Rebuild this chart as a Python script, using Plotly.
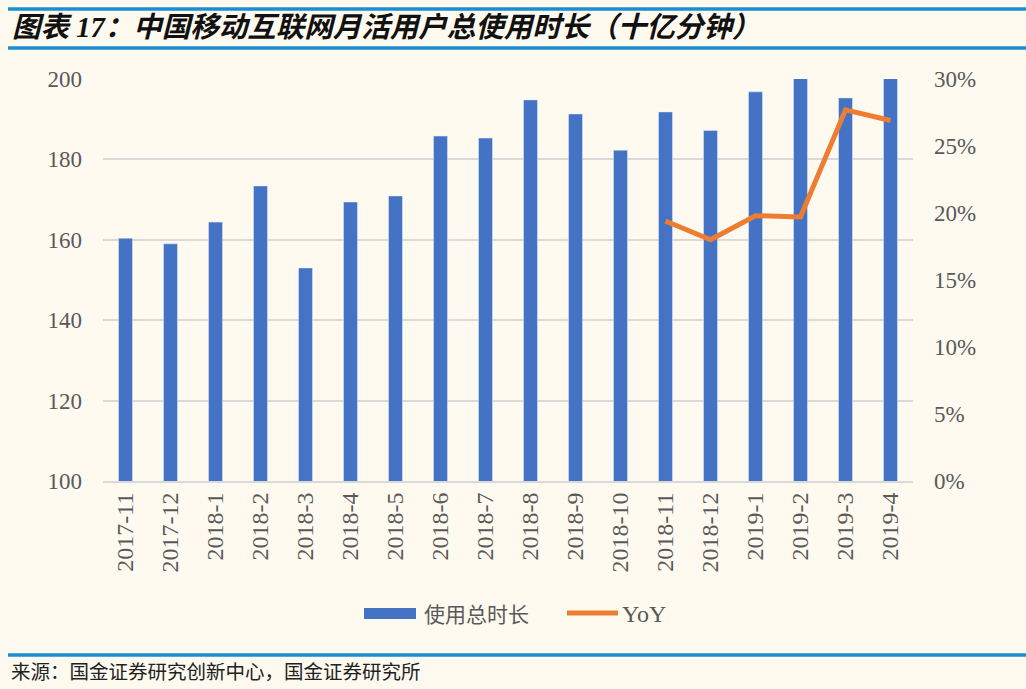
import plotly.graph_objects as go

categories = ["2017-11", "2017-12", "2018-1", "2018-2", "2018-3", "2018-4", "2018-5",
              "2018-6", "2018-7", "2018-8", "2018-9", "2018-10", "2018-11", "2018-12",
              "2019-1", "2019-2", "2019-3", "2019-4"]
usage = [160.4, 159.0, 164.4, 173.4, 153.0, 169.4, 170.9, 185.8, 185.3, 194.8,
         191.3, 182.3, 191.8, 187.2, 196.8, 200.5, 195.3, 200.5]
yoy = [None] * 12 + [0.194, 0.180, 0.198, 0.197, 0.277, 0.269]

bar_name = "使用总时长"
line_name = "YoY"
title_text = "图表 17：中国移动互联网月活用户总使用时长（十亿分钟）"
source_text = "来源：国金证券研究创新中心，国金证券研究所"

serif = "Liberation Serif, Times New Roman, serif"
cjk = "Noto Sans CJK SC"
bg = "#FEFAF0"
txt = "#595959"
bar_color = "#4472C4"
line_color = "#ED7D31"
rule_color = "#1A8FD0"

W, H = 1026, 689
ML, MR, MT, MB = 103, 113, 79, 208
H_plot = H - MT - MB
W_plot = W - ML - MR


def py(p):
    return (H - MB - p) / H_plot


def px(p):
    return (p - ML) / W_plot


fig = go.Figure()
fig.add_trace(go.Bar(x=categories, y=usage, name=bar_name, marker_color=bar_color,
                     yaxis="y", showlegend=False))
fig.add_trace(go.Scatter(x=categories, y=yoy, name=line_name, mode="lines",
                         line=dict(color=line_color, width=5), yaxis="y2",
                         connectgaps=False, showlegend=False))

fig.update_layout(
    width=W, height=H,
    paper_bgcolor=bg, plot_bgcolor=bg,
    margin=dict(l=ML, r=MR, t=MT, b=MB),
    bargap=0.69,
    xaxis=dict(type="category", tickangle=-90, showgrid=False,
               showline=True, linecolor="#D9D9D9", linewidth=2,
               ticks="", tickfont=dict(family=serif, size=24, color=txt)),
    yaxis=dict(range=[100, 200], dtick=20, showgrid=True, gridcolor="#D9D9D9",
               gridwidth=1.5, zeroline=False, showline=False, ticks="",
               tickfont=dict(family=serif, size=23, color=txt), ticklabelstandoff=20),
    yaxis2=dict(range=[0, 0.30], dtick=0.05, tickformat=".0%", overlaying="y",
                side="right", showgrid=False, zeroline=False, showline=False,
                ticks="", tickfont=dict(family=serif, size=23, color=txt),
                ticklabelstandoff=20),
)

# header / footer rules
for y_px in (9, 48, 655):
    fig.add_shape(type="line", xref="paper", yref="paper",
                  x0=px(8), x1=px(W), y0=py(y_px), y1=py(y_px),
                  line=dict(color=rule_color, width=3.5))

# custom legend
fig.add_shape(type="rect", xref="paper", yref="paper",
              x0=px(364), x1=px(416), y0=py(619), y1=py(608),
              fillcolor=bar_color, line=dict(width=0))
fig.add_annotation(text=bar_name, xref="paper", yref="paper",
                   x=px(422), y=py(613), xanchor="left", yanchor="middle",
                   showarrow=False, font=dict(family=cjk, size=21, color=txt))
fig.add_shape(type="line", xref="paper", yref="paper",
              x0=px(567), x1=px(618), y0=py(613), y1=py(613),
              line=dict(color=line_color, width=5))
fig.add_annotation(text=line_name, xref="paper", yref="paper",
                   x=px(620), y=py(614), xanchor="left", yanchor="middle",
                   showarrow=False, font=dict(family=serif, size=24, color=txt))

fig.add_annotation(text="<b><i>" + title_text + "</i></b>", xref="paper", yref="paper",
                   x=px(10), y=py(28), xanchor="left",
                   yanchor="middle", showarrow=False,
                   font=dict(family=serif + ", " + cjk, size=28.5, color="#111111"))
fig.add_annotation(text=source_text, xref="paper", yref="paper",
                   x=px(9), y=py(670), xanchor="left",
                   yanchor="middle", showarrow=False,
                   font=dict(family=cjk, size=19.5, color="#222222"))

fig.write_html("out.html",
               config={"displayModeBar": False},
               post_script="document.body.style.margin='0';"
                           "document.body.style.background='#FEFAF0';")
